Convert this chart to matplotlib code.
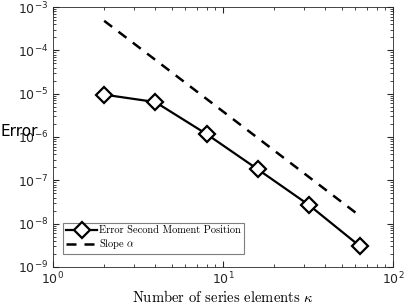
import matplotlib
matplotlib.use('Agg')
import matplotlib.pyplot as plt
import numpy as np

plt.rcParams['mathtext.fontset'] = 'cm'

# number of series elements
kappa = [2, 4, 8, 16, 32, 64]
# error of second moment position
err = [9.5e-6, 6.4e-6, 1.17e-6, 1.8e-7, 2.7e-8, 3.0e-9]
# reference slope line
slope_k = [2, 64]
slope_val = [4.8e-4, 1.5e-8]

axcol = '#262626'

fig = plt.figure(figsize=(4.07, 3.05), dpi=100)
ax = fig.add_axes([53/407, 1-267/305, 340/407, 260/305])

ax.plot(kappa, err, '-', color='k', lw=1.6, marker='D', ms=8,
        mfc='white', mec='k', mew=1.6, label='Error Second Moment Position')
ax.plot(slope_k, slope_val, '--', color='k', lw=1.8, dashes=(4, 3.2),
        label=r'Slope $\alpha$')

ax.set_xscale('log')
ax.set_yscale('log')
ax.set_xlim(1, 100)
ax.set_ylim(1e-9, 1e-3)

for s in ax.spines.values():
    s.set_color(axcol)
    s.set_linewidth(0.6)
ax.tick_params(which='both', direction='in', top=True, right=True,
               colors=axcol, labelsize=9)
ax.tick_params(which='major', length=4)
ax.tick_params(which='minor', length=2)
ax.tick_params(axis='x', pad=3)

ax.set_xlabel(r'Number of series elements $\kappa$', family='cmr10',
              fontsize=10.5, labelpad=1)
fig.text(1/407, 1-132/305, 'Error', fontsize=11,
         ha='left', va='center', color='k')

leg = ax.legend(loc='lower left', prop={'family': 'cmr10', 'size': 7.5},
                fancybox=False, framealpha=1, edgecolor='#7f7f7f',
                handlelength=3, handletextpad=0.2, borderpad=0.25,
                labelspacing=0.2, bbox_to_anchor=(0.015, 0.03))
leg.get_frame().set_linewidth(0.8)

fig.savefig('out.png', dpi=100)
